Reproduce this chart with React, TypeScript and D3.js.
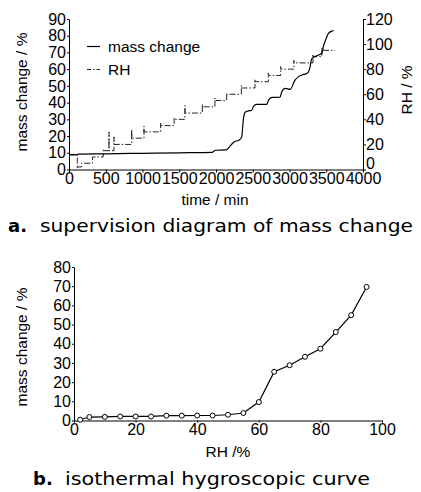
import React, { useRef, useEffect } from "react";
import * as d3 from "d3";

// top chart: mass change over time (left axis)
const massTime = [0, 110, 120, 500, 1000, 1500, 1950, 1990, 2140, 2190, 2240, 2320, 2350, 2370, 2395, 2440, 2485, 2510, 2555, 2690, 2715, 2760, 2870, 2895, 2940, 3010, 3075, 3120, 3170, 3240, 3280, 3300, 3370, 3440, 3460, 3500, 3530, 3575, 3600];
const massValue = [8.7, 8.8, 9.2, 9.4, 9.7, 10.0, 10.3, 11.5, 11.7, 14.0, 16.3, 17.8, 19.5, 29, 34.2, 35.1, 35.3, 37.8, 38.9, 39.0, 41.5, 43.1, 43.2, 46.5, 48.5, 47.9, 53.5, 55.4, 56.5, 57.5, 61.4, 66.0, 68, 69.5, 73.4, 78.4, 81.4, 82.8, 83];

// top chart: RH steps (right axis), with the transient value at each step start
const rhStart = [0, 113, 170, 320, 465, 544, 612, 853, 1020, 1247, 1430, 1578, 1814, 1985, 2145, 2345, 2530, 2712, 2880, 3060, 3320, 3440];
const rhLevel = [12, 2, 5, 10, 15, 15, 20, 25, 30, 35, 40, 45, 50, 55, 60, 65, 70, 75, 80, 85, 90, 95];
const rhPeak = [12, 0.8, 5, 10, 16, 30, 26, 32, 34.5, 37, 41, 51, 52, 57, 61, 67, 72, 77, 82, 87, 92, 97];
const rhEnd = 3620;

// bottom chart: isothermal hygroscopic curve
const isoRH = [2, 5, 10, 15, 20, 25, 30, 35, 40, 45, 50, 55, 60, 65, 70, 75, 80, 85, 90, 95];
const isoMass = [0.4, 1.8, 1.9, 2.1, 2.1, 2.1, 2.5, 2.5, 2.6, 2.6, 3.0, 3.9, 9.6, 25.4, 28.8, 33.2, 37.4, 46.1, 54.9, 69.6];

const topXTicks = [0, 500, 1000, 1500, 2000, 2500, 3000, 3500, 4000];
const topLeftTicks = [0, 10, 20, 30, 40, 50, 60, 70, 80, 90];
const topRightTicks = [0, 20, 40, 60, 80, 100, 120];
const botXTicks = [0, 20, 40, 60, 80, 100];
const botYTicks = [0, 10, 20, 30, 40, 50, 60, 70, 80];

const FONT = "'Liberation Sans', Arial, sans-serif";
const CAP = "'DejaVu Sans', 'Open Sans', sans-serif";

export default function App() {
  const svgRef = useRef<SVGSVGElement>(null);

  useEffect(() => {
    const svg = d3.select(svgRef.current);
    svg.selectAll("*").remove();

    // ---------- top chart ----------
    const x1 = d3.scaleLinear().domain([0, 4000]).range([69, 363]);
    const yL = d3.scaleLinear().domain([0, 90]).range([169.5, 19]);
    const yR = d3.scaleLinear().domain([0, 120]).range([169.5, 19]);

    const styleAxis = (g: any, size: number) => {
      g.selectAll("path").attr("stroke", "#000").attr("stroke-width", 1);
      g.selectAll("line").attr("stroke", "#000");
      g.selectAll("text").attr("font-family", FONT).attr("font-size", size).attr("fill", "#000");
    };

    const gx1 = svg.append("g").attr("transform", "translate(0,169.5)")
      .call(d3.axisBottom(x1).tickValues(topXTicks).tickSize(3).tickSizeOuter(0).tickPadding(0).tickFormat(d3.format("d")));
    styleAxis(gx1, 16);

    const gyL = svg.append("g").attr("transform", "translate(69,0)")
      .call(d3.axisLeft(yL).tickValues(topLeftTicks).tickSize(2).tickSizeOuter(0).tickPadding(1));
    styleAxis(gyL, 16);

    const gyR = svg.append("g").attr("transform", "translate(363,0)")
      .call(d3.axisRight(yR).tickValues(topRightTicks).tickSize(3).tickSizeOuter(0).tickPadding(0));
    styleAxis(gyR, 16);
    // the right "0" sits above the "4000" label, as in the original
    gyR.selectAll("text").filter((d: any) => d === 0).attr("dy", "-0.08em");

    // RH step path
    const rhPts: [number, number][] = [];
    rhStart.forEach((t, i) => {
      if (i > 0) rhPts.push([t, rhLevel[i - 1]]);
      rhPts.push([t, rhPeak[i]]);
      rhPts.push([t, rhLevel[i]]);
    });
    rhPts.push([rhEnd, rhLevel[rhLevel.length - 1]]);

    const lineTop = d3.line<[number, number]>().x(d => x1(d[0])).y(d => yR(d[1]));
    svg.append("path")
      .attr("d", lineTop(rhPts))
      .attr("fill", "none")
      .attr("stroke", "#222")
      .attr("stroke-width", 1)
      .attr("stroke-dasharray", "6 2 1.5 2");

    const massLine = d3.line<number>().x((d, i) => x1(massTime[i])).y(d => yL(d)).curve(d3.curveMonotoneX);
    svg.append("path")
      .attr("d", massLine(massValue))
      .attr("fill", "none")
      .attr("stroke", "#000")
      .attr("stroke-width", 1.2);

    // legend
    svg.append("line").attr("x1", 87).attr("x2", 100).attr("y1", 46.5).attr("y2", 46.5).attr("stroke", "#000").attr("stroke-width", 1.2);
    svg.append("text").attr("x", 108).attr("y", 52).text("mass change")
      .attr("font-family", FONT).attr("font-size", 15.5);
    svg.append("line").attr("x1", 87).attr("x2", 100).attr("y1", 69.5).attr("y2", 69.5).attr("stroke", "#222")
      .attr("stroke-dasharray", "4 2 1.5 2");
    svg.append("text").attr("x", 108).attr("y", 75).text("RH")
      .attr("font-family", FONT).attr("font-size", 15.5);

    // titles
    svg.append("text").attr("transform", "translate(27,92) rotate(-90)").attr("text-anchor", "middle")
      .attr("font-family", FONT).attr("font-size", 15.5).text("mass change / %");
    svg.append("text").attr("transform", "translate(412,90) rotate(-90)").attr("text-anchor", "middle")
      .attr("font-family", FONT).attr("font-size", 15.5).text("RH / %");
    svg.append("text").attr("x", 215).attr("y", 205).attr("text-anchor", "middle")
      .attr("font-family", FONT).attr("font-size", 15.5).text("time / min");

    svg.append("text").attr("x", 8).attr("y", 232).attr("font-family", CAP).attr("font-size", 18)
      .attr("font-weight", "bold").text("a.");
    svg.append("text").attr("x", 40).attr("y", 232).attr("font-family", CAP).attr("font-size", 18)
      .attr("textLength", 373).attr("lengthAdjust", "spacingAndGlyphs").text("supervision diagram of mass change");

    // ---------- bottom chart ----------
    const x2 = d3.scaleLinear().domain([0, 100]).range([74, 382]);
    const y2 = d3.scaleLinear().domain([0, 80]).range([420.5, 267]);

    const gx2 = svg.append("g").attr("transform", "translate(0,420.5)")
      .call(d3.axisBottom(x2).tickValues(botXTicks).tickSize(2).tickSizeOuter(0).tickPadding(1));
    styleAxis(gx2, 16);

    const gy2 = svg.append("g").attr("transform", "translate(74,0)")
      .call(d3.axisLeft(y2).tickValues(botYTicks).tickSize(2).tickSizeOuter(0).tickPadding(1));
    styleAxis(gy2, 16);

    const isoLine = d3.line<number>().x((d, i) => x2(isoRH[i])).y(d => y2(d));
    svg.append("path")
      .attr("d", isoLine(isoMass))
      .attr("fill", "none")
      .attr("stroke", "#000")
      .attr("stroke-width", 1.2);

    svg.append("g").selectAll("circle").data(isoMass).enter().append("circle")
      .attr("cx", (d, i) => x2(isoRH[i]))
      .attr("cy", d => y2(d))
      .attr("r", 2.5)
      .attr("fill", "#fff")
      .attr("stroke", "#000")
      .attr("stroke-width", 1);

    svg.append("text").attr("transform", "translate(27,347) rotate(-90)").attr("text-anchor", "middle")
      .attr("font-family", FONT).attr("font-size", 15.5).text("mass change / %");
    svg.append("text").attr("x", 228).attr("y", 457).attr("text-anchor", "middle")
      .attr("font-family", FONT).attr("font-size", 15.5).text("RH /%");

    svg.append("text").attr("x", 33).attr("y", 485).attr("font-family", CAP).attr("font-size", 18)
      .attr("font-weight", "bold").text("b.");
    svg.append("text").attr("x", 65).attr("y", 485).attr("font-family", CAP).attr("font-size", 18)
      .attr("textLength", 305).attr("lengthAdjust", "spacingAndGlyphs").text("isothermal hygroscopic curve");
  }, []);

  return (
    <svg ref={svgRef} width={421} height={492}
      style={{ position: "absolute", left: 0, top: 0, background: "#fff" }} />
  );
}
